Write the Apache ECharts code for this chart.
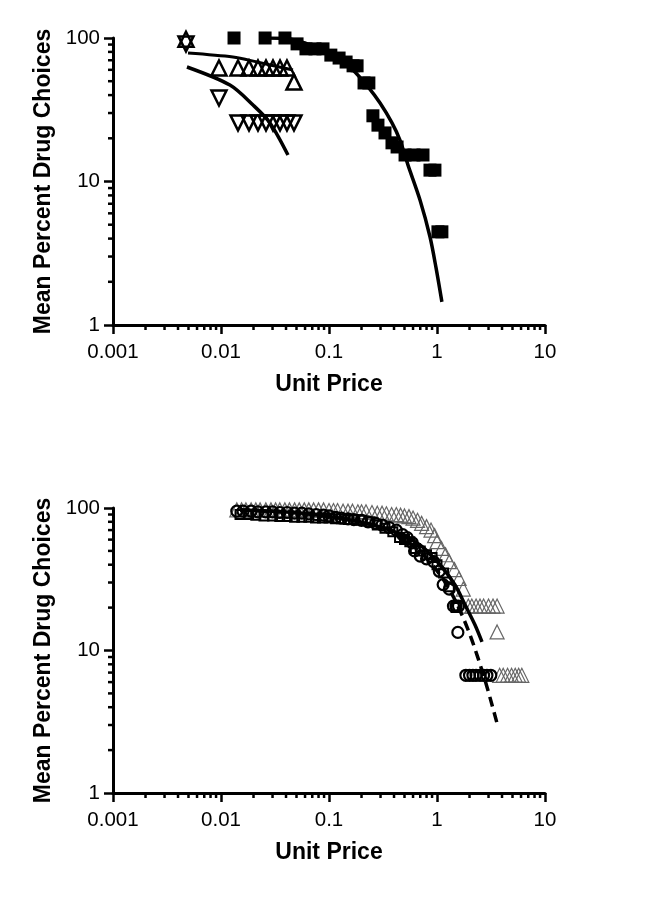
<!DOCTYPE html>
<html>
<head>
<meta charset="utf-8">
<script src="https://cdn.jsdelivr.net/npm/echarts@6/dist/echarts.min.js"></script>
<style>
  html, body { margin: 0; padding: 0; background: #fff; }
  #chart { width: 663px; height: 919px; }
</style>
</head>
<body>
<div id="chart"></div>
<script>
  // ---- top panel ----
  var sqX = [0.0132, 0.0256, 0.0391, 0.0506, 0.0612, 0.0742, 0.088, 0.104, 0.124, 0.144, 0.167, 0.182, 0.211, 0.234, 0.255, 0.284, 0.33, 0.383, 0.427, 0.506, 0.612, 0.742, 0.861, 0.957, 1.02, 1.11]
  var sqY = [100, 100, 100, 91, 84, 84, 84, 76, 72.5, 68, 64, 64, 48.6, 48.6, 28.7, 24.7, 21.8, 18.6, 17.4, 15.3, 15.3, 15.3, 12, 12, 4.46, 4.46]
  var sqFitX = [0.026, 0.0435, 0.06, 0.0826, 0.126, 0.174, 0.23, 0.297, 0.383, 0.454, 0.539, 0.696, 0.861, 0.98, 1.11]
  var sqFitY = [100, 98.4, 92.3, 85.2, 72.6, 57.9, 45.6, 35.2, 25.6, 19.4, 13, 7.43, 4.12, 2.5, 1.45]

  var upX = [0.00474, 0.00958, 0.01437, 0.01817, 0.022, 0.0261, 0.0303, 0.0352, 0.0408, 0.0474]
  var upY = [98, 61.8, 61.8, 61.8, 61.8, 61.8, 61.8, 61.8, 61.8, 49.3]
  var upFitX = [0.00495, 0.0129, 0.0215, 0.0464]
  var upFitY = [78.6, 73.7, 68.1, 59.8]

  var dnX = [0.00474, 0.00958, 0.01437, 0.01817, 0.022, 0.0261, 0.0303, 0.0352, 0.0408, 0.0474]
  var dnY = [91, 38.2, 25.6, 25.6, 25.6, 25.6, 25.6, 25.6, 25.6, 25.6]
  var dnFitX = [0.00484, 0.0121, 0.0198, 0.0284, 0.0417]
  var dnFitY = [62.8, 47, 34.1, 25.6, 15.3]

  // ---- bottom panel ----
  var triX = [0.014, 0.0155, 0.017, 0.019, 0.021, 0.023, 0.026, 0.029, 0.032, 0.035, 0.039, 0.043, 0.048, 0.053, 0.059, 0.065, 0.072, 0.08, 0.089,
    0.1, 0.11, 0.12, 0.135, 0.15, 0.165, 0.185, 0.2, 0.22, 0.25, 0.28, 0.31, 0.34, 0.38, 0.42, 0.46, 0.5, 0.55, 0.6, 0.66, 0.72, 0.8, 0.88, 0.95,
    1.0, 1.1, 1.2, 1.3, 1.45, 1.6, 1.75,
    1.95, 2.1, 2.3, 2.5, 2.7, 3.0, 3.3, 3.6,
    3.6,
    3.8, 4.1, 4.5, 4.9, 5.3, 5.7, 6.1]
  var triY = [97, 97, 97, 97, 97, 97, 97, 97, 97, 97, 97, 97, 97, 97, 97, 97, 97, 97, 97,
    96, 96, 96, 95, 95, 95, 94, 94, 94, 93, 92, 92, 91, 90, 90, 89, 88, 87, 85, 82, 78, 74, 70, 64,
    58, 52, 47, 42, 37, 32, 27,
    20.5, 20.5, 20.5, 20.5, 20.5, 20.5, 20.5, 20.5,
    13.5,
    6.7, 6.7, 6.7, 6.7, 6.7, 6.7, 6.7]

  var cirX = [0.014, 0.016, 0.019, 0.022, 0.026, 0.03, 0.035, 0.041, 0.048, 0.056, 0.065, 0.076, 0.089, 0.1, 0.115, 0.13, 0.15, 0.17,
    0.2, 0.23, 0.27, 0.31, 0.36, 0.42, 0.48, 0.53, 0.59, 0.62, 0.7, 0.8, 0.93, 1.05, 1.14, 1.3,
    1.42, 1.5, 1.58,
    1.56,
    1.85, 2.0, 2.15, 2.3, 2.5, 2.7, 2.9, 3.15]
  var cirY = [95, 95, 95, 94, 94, 94, 93, 93, 92, 92, 91, 90, 89, 88, 86, 85, 84, 83,
    82, 80, 78, 76, 73, 70, 65, 62, 57, 50, 46, 44, 42, 36, 29, 27,
    20.5, 20.5, 20.5,
    13.4,
    6.7, 6.7, 6.7, 6.7, 6.7, 6.7, 6.7, 6.7]

  var boxX = [0.015, 0.018, 0.021, 0.025, 0.03, 0.035, 0.041, 0.048, 0.056, 0.065, 0.075, 0.087, 0.1, 0.115, 0.13, 0.15, 0.17,
    0.2, 0.24, 0.28, 0.33, 0.39, 0.45, 0.5, 0.56, 0.63, 0.7, 0.8, 0.9, 1.0, 1.15, 1.3, 1.5]
  var boxY = [90, 90, 89, 88, 88, 87, 87, 86, 86, 86, 85, 85, 85, 84, 84, 83, 83,
    82, 80, 76, 72, 68, 62, 60, 58, 52, 50, 47, 45, 40, 35, 28, 20]

  var solidFitX = [0.015, 0.0539, 0.156, 0.367, 0.696, 1.07, 1.47, 1.82, 2.25, 2.61]
  var solidFitY = [96.8, 92.2, 82.4, 70.1, 55, 39.8, 28.8, 20.9, 15.1, 11.5]
  var dashFitX = [0.015, 0.0539, 0.156, 0.367, 0.696, 1.07, 1.47, 2.02, 2.78, 3.59]
  var dashFitY = [96.8, 92.2, 82.4, 70.1, 49.1, 33.9, 22.6, 12.9, 6.2, 3.1]

  // axis ticks
  var xMinor = [0.002, 0.003, 0.004, 0.005, 0.006, 0.007, 0.008, 0.009,
    0.02, 0.03, 0.04, 0.05, 0.06, 0.07, 0.08, 0.09,
    0.2, 0.3, 0.4, 0.5, 0.6, 0.7, 0.8, 0.9,
    2, 3, 4, 5, 6, 7, 8, 9]
  var yMinor = [2, 3, 4, 5, 6, 7, 8, 9, 20, 30, 40, 50, 60, 70, 80, 90]

  var FONT = 'Liberation Sans'

  function zip(xs, ys) {
    return xs.map(function (x, i) { return [x, ys[i]] })
  }

  function xAxisOf(idx) {
    return {
      type: 'log', logBase: 10, gridIndex: idx,
      min: 0.001, max: 10, interval: 1,
      name: 'Unit Price', nameLocation: 'middle', nameGap: 48,
      nameTextStyle: { fontFamily: FONT, fontSize: 23, fontWeight: 'bold', color: '#000' },
      axisLine: { lineStyle: { color: '#000', width: 3 } },
      axisTick: { show: true, length: 9, lineStyle: { color: '#000', width: 2.5 } },
      axisLabel: {
        fontFamily: FONT, fontSize: 20.5, color: '#000', margin: 17,
        formatter: function (v) { return String(Number(v.toPrecision(3))) }
      },
      splitLine: { show: false }
    }
  }
  function yAxisOf(idx) {
    return {
      type: 'log', logBase: 10, gridIndex: idx,
      min: 1, max: 100, interval: 1,
      name: 'Mean Percent Drug Choices', nameLocation: 'middle', nameGap: 57, nameRotate: 90,
      nameTextStyle: { fontFamily: FONT, fontSize: 23, fontWeight: 'bold', color: '#000' },
      axisLine: { lineStyle: { color: '#000', width: 3 } },
      axisTick: { show: true, length: 9, lineStyle: { color: '#000', width: 2.5 } },
      axisLabel: {
        fontFamily: FONT, fontSize: 20.5, color: '#000', margin: 13,
        formatter: function (v) { return String(Math.round(v)) }
      },
      splitLine: { show: false }
    }
  }

  // minor ticks drawn through the axes' scales
  function minorX(idx) {
    return {
      type: 'custom', xAxisIndex: idx, yAxisIndex: idx, clip: false, silent: true, z: 1,
      data: xMinor.map(function (v) { return [v, 1] }),
      renderItem: function (params, api) {
        var p = api.coord([api.value(0), 1])
        return { type: 'line', shape: { x1: p[0], y1: p[1], x2: p[0], y2: p[1] + 5 },
          style: { stroke: '#000', lineWidth: 2.5 } }
      }
    }
  }
  function minorY(idx) {
    return {
      type: 'custom', xAxisIndex: idx, yAxisIndex: idx, clip: false, silent: true, z: 1,
      data: yMinor.map(function (v) { return [0.001, v] }),
      renderItem: function (params, api) {
        var p = api.coord([0.001, api.value(1)])
        return { type: 'line', shape: { x1: p[0], y1: p[1], x2: p[0] - 5, y2: p[1] },
          style: { stroke: '#000', lineWidth: 2.5 } }
      }
    }
  }

  var openStyle = { color: 'rgba(0,0,0,0)', borderColor: '#000', borderWidth: 2.5, opacity: 1 }

  var option = {
    backgroundColor: '#fff',
    animation: false,
    grid: [
      { left: 113, top: 38, width: 432, height: 287 },
      { left: 113, top: 508, width: 432, height: 285 }
    ],
    xAxis: [xAxisOf(0), xAxisOf(1)],
    yAxis: [yAxisOf(0), yAxisOf(1)],
    series: [
      minorX(0), minorY(0), minorX(1), minorY(1),
      // top
      { type: 'scatter', xAxisIndex: 0, yAxisIndex: 0, data: zip(sqX, sqY),
        symbol: 'rect', symbolSize: 13, itemStyle: { color: '#000', opacity: 1 } },
      { type: 'scatter', xAxisIndex: 0, yAxisIndex: 0, data: zip(upX, upY),
        symbol: 'triangle', symbolSize: 15, itemStyle: openStyle },
      { type: 'scatter', xAxisIndex: 0, yAxisIndex: 0, data: zip(dnX, dnY),
        symbol: 'triangle', symbolRotate: 180, symbolSize: 15, itemStyle: openStyle },
      { type: 'line', xAxisIndex: 0, yAxisIndex: 0, data: zip(sqFitX, sqFitY), smooth: 0.3,
        showSymbol: false, lineStyle: { color: '#000', width: 3.5 } },
      { type: 'line', xAxisIndex: 0, yAxisIndex: 0, data: zip(upFitX, upFitY), smooth: 0.3,
        showSymbol: false, lineStyle: { color: '#000', width: 3 } },
      { type: 'line', xAxisIndex: 0, yAxisIndex: 0, data: zip(dnFitX, dnFitY), smooth: 0.3,
        showSymbol: false, lineStyle: { color: '#000', width: 3.5 } },
      // bottom
      { type: 'scatter', xAxisIndex: 1, yAxisIndex: 1, data: zip(triX, triY),
        symbol: 'triangle', symbolSize: 14,
        itemStyle: { color: 'rgba(0,0,0,0)', borderColor: '#666', borderWidth: 1.2, opacity: 1 } },
      { type: 'scatter', xAxisIndex: 1, yAxisIndex: 1, data: zip(boxX, boxY),
        symbol: 'rect', symbolSize: 9, itemStyle: { color: 'rgba(0,0,0,0)', borderColor: '#000', borderWidth: 2, opacity: 1 } },
      { type: 'scatter', xAxisIndex: 1, yAxisIndex: 1, data: zip(cirX, cirY),
        symbol: 'circle', symbolSize: 11, itemStyle: { color: 'rgba(0,0,0,0)', borderColor: '#000', borderWidth: 2.2, opacity: 1 } },
      { type: 'line', xAxisIndex: 1, yAxisIndex: 1, data: zip(solidFitX, solidFitY), smooth: 0.3,
        showSymbol: false, lineStyle: { color: '#000', width: 3.5 } },
      { type: 'line', xAxisIndex: 1, yAxisIndex: 1, data: zip(dashFitX, dashFitY), smooth: 0.3,
        showSymbol: false, lineStyle: { color: '#000', width: 3.5, type: [10, 6] } }
    ]
  }

  var chart = echarts.init(document.getElementById('chart'), null, { renderer: 'canvas' })
  chart.setOption(option)
</script>
</body>
</html>
